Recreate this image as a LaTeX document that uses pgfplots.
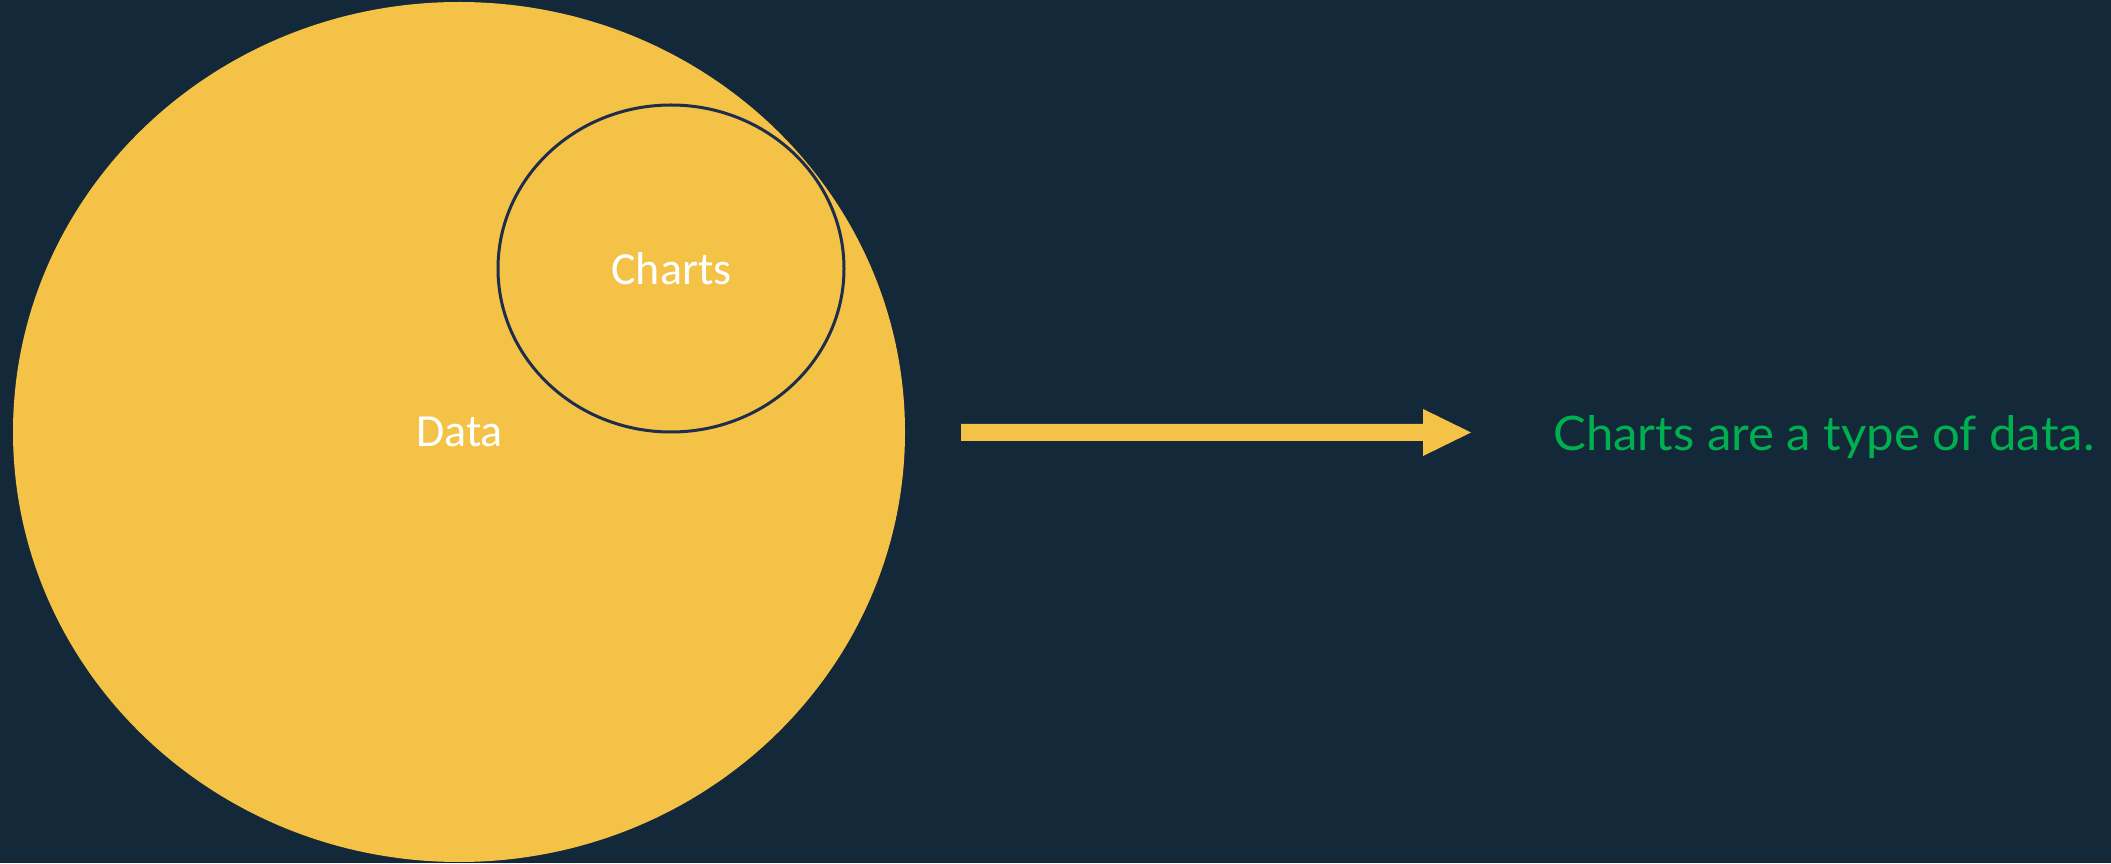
\documentclass[border=0pt]{standalone}
\usepackage{pgfplots}
\pgfplotsset{compat=1.18}
\usepackage{fontspec}
\setmainfont{Carlito}
\newfontfamily\greenfont{Lato}
\definecolor{bg}{RGB}{19,41,58}
\definecolor{gold}{RGB}{244,194,70}
\definecolor{ring}{RGB}{30,45,75}
\definecolor{okgreen}{RGB}{0,176,80}
\begin{document}
\begin{tikzpicture}
\begin{axis}[
  scale only axis, width=1055.5pt, height=431.5pt,
  xmin=0, xmax=2111, ymin=0, ymax=863,
  axis lines=none, ticks=none,
]
\fill[bg] (axis cs:0,0) rectangle (axis cs:2111,863);
% big ellipse "Data"
\fill[gold] (axis cs:459,431) ellipse [x radius=446, y radius=430];
% small ellipse "Charts"
\draw[ring, line width=1.5pt, fill=gold] (axis cs:671,594.5) ellipse [x radius=173, y radius=163.5];
% arrow
\addplot[fill=gold, draw=none] coordinates {
  (961,439) (1423,439) (1423,454) (1471,430.5) (1423,407) (1423,422) (961,422) (961,439)
} -- cycle;
\node[white, anchor=base, font=\fontsize{23}{27}\selectfont] at (axis cs:671.5,578) {Charts};
\node[white, anchor=base, font=\fontsize{23}{27}\selectfont] at (axis cs:459.5,416) {Data};
\node[okgreen, anchor=base west, inner sep=0pt, font=\greenfont\fontsize{24}{28}\selectfont] at (axis cs:1553,412) {\resizebox{270.5pt}{17.5pt}{Charts are a type of data.}};
\end{axis}
\pgfresetboundingbox
\useasboundingbox (0,0) rectangle (1055.5pt,431.5pt);
\end{tikzpicture}
\end{document}
